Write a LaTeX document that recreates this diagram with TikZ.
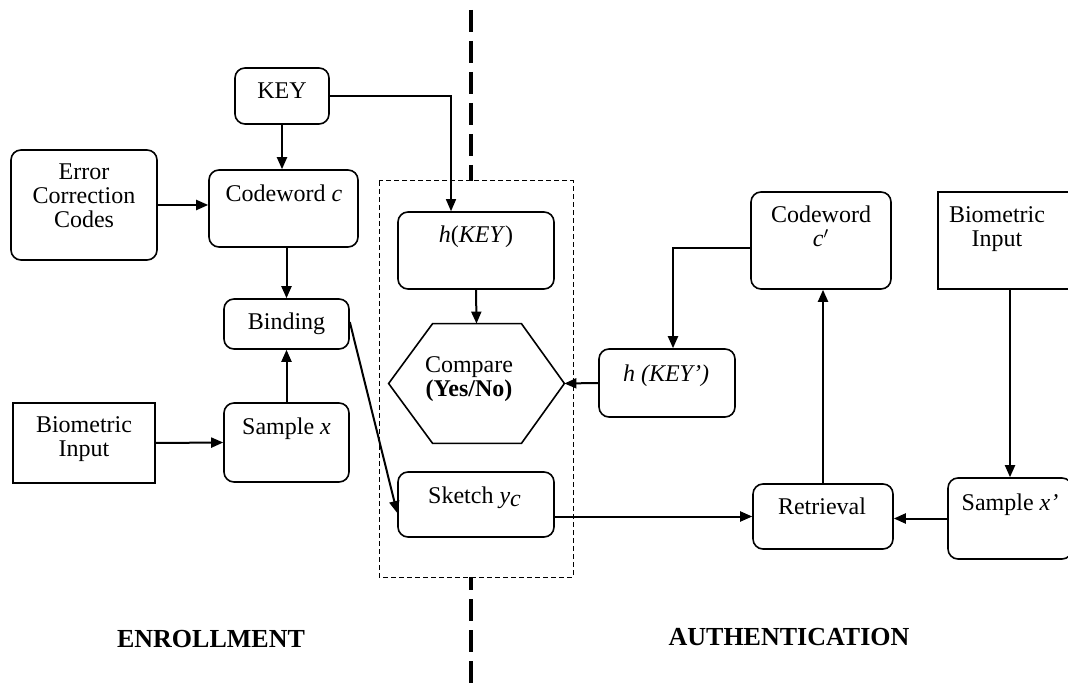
\documentclass[tikz,border=0pt]{standalone}
\usepackage{fontspec}
\setmainfont{Liberation Serif}
\usetikzlibrary{arrows.meta}
\begin{document}
\begin{tikzpicture}[x=0.5pt,y=-0.5pt]

	\tikzset{box/.style={draw, line width=0.8pt, rounded corners=5pt, inner sep=0pt}}
	\tikzset{sqbox/.style={draw, line width=0.8pt, inner sep=0pt}}
	\tikzset{txt/.style={anchor=base, inner sep=0pt, font=\fontsize{12}{12}\selectfont, align=center}}
	\tikzset{title/.style={anchor=base, inner sep=0pt, font=\fontsize{13}{13}\selectfont\bfseries}}
	\tikzset{arr/.style={line width=1pt, -{Triangle[length=6pt,width=5pt]}}}

	\useasboundingbox (0,0) rectangle (1068,688);

	% dividing line and dashed frame
	\draw[line width=1.6pt, dash pattern=on 11pt off 4.5pt] (471,10) -- (471,688);
	\draw[fill=white, line width=0.5pt, dash pattern=on 2.5pt off 1.5pt] (379,181) rectangle (573,577);

	% enrollment
	\node[box, minimum width=47pt, minimum height=28pt] (key) at (282,96) {};
	\node[txt] (keyt) at (282,99) {KEY};

	\node[box, minimum width=73pt, minimum height=55pt] (ecc) at (84,205) {};
	\node[txt] (ecct) at (84,228) {Error\\Correction\\Codes};

	\node[box, minimum width=74.5pt, minimum height=38.5pt] (cw) at (283.5,208.5) {};
	\node[txt] (cwt) at (284,202) {Codeword \textit{c}};

	\node[box, minimum width=62.5pt, minimum height=25pt] (bind) at (286.5,324) {};
	\node[txt] (bindt) at (286.5,330) {Binding};

	\node[box, minimum width=62.5pt, minimum height=39.5pt] (samp) at (286.5,442.5) {};
	\node[txt] (sampt) at (286.5,435) {Sample \textit{x}};

	\node[sqbox, minimum width=71pt, minimum height=40pt] (bio) at (84,443) {};
	\node[txt] (biot) at (84,457) {Biometric\\Input};

	% middle
	\node[box, minimum width=78pt, minimum height=38.5pt] (hk) at (476,250.5) {};
	\node[txt] (hkt) at (476,243) {\textit{h}(\textit{KEY})};

	\node[inner sep=0pt, minimum width=87.5pt, minimum height=59.5pt] (cmp) at (476.5,383.5) {};
	\draw[line width=0.8pt] (cmp.west) -- ([xshift=22pt]cmp.north west) -- ([xshift=-21.5pt]cmp.north east)
		-- (cmp.east) -- ([xshift=-21.5pt]cmp.south east) -- ([xshift=22pt]cmp.south west) -- cycle;
	\node[txt] (cmpt) at (469,397) {Compare\\\textbf{(Yes/No)}};

	\node[box, minimum width=78pt, minimum height=32.5pt] (sk) at (476,504.5) {};
	\node[txt] (skt) at (475,503) {Sketch \textit{y}$_{\textit{c}}$};

	% authentication
	\node[box, minimum width=70pt, minimum height=48.5pt] (cw2) at (821,240.5) {};
	\node[txt] (cw2t) at (821,247) {Codeword\\\textit{c}$^{\prime}$};

	\node[sqbox, minimum width=67pt, minimum height=48.5pt] (bio2) at (1005,240.5) {};
	\node[txt] (bio2t) at (997,247) {Biometric\\Input};

	\node[box, minimum width=68pt, minimum height=34pt] (hk2) at (667,383) {};
	\node[txt] (hk2t) at (666,382) {\textit{h (KEY')}};

	\node[box, minimum width=70pt, minimum height=32.5pt] (ret) at (823,516.5) {};
	\node[txt] (rett) at (822,514) {Retrieval};

	\node[box, minimum width=62pt, minimum height=40.5pt] (samp2) at (1010,518.5) {};
	\node[txt] (samp2t) at (1010,510) {Sample \textit{x'}};

	\node[title] (enr) at (211,647) {ENROLLMENT};
	\node[title] (auth) at (789,645) {AUTHENTICATION};

	% arrows
	\draw[arr, line width=0.7pt] (key.east) -| ([xshift=-12.5pt]hk.north);
	\draw[arr] (key.south) -- (key.south |- cw.north);
	\draw[arr] (ecc.east) -- (ecc.east -| cw.west);
	\draw[arr] (bind.north |- cw.south) -- (bind.north);
	\draw[arr] (samp.north) -- (bind.south);
	\draw[arr] (bio.east) -- (samp.west);
	\draw[arr] ([yshift=1pt]bind.east) -- ([yshift=-4.25pt]sk.west);
	\draw[arr] (hk.south) -- (cmp.north);
	\draw[arr] (hk2.west) -- (cmp.east);
	\draw[arr] ([yshift=-4pt]cw2.west) -| ([xshift=3pt]hk2.north);
	\draw[arr] (ret.north) -- (ret.north |- cw2.south);
	\draw[arr] (samp2.west) -- (samp2.west -| ret.east);
	\draw[arr] (samp2.north |- bio2.south) -- (samp2.north);
	\draw[arr] (sk.east |- ret.west) -- (ret.west);

\end{tikzpicture}
\end{document}
